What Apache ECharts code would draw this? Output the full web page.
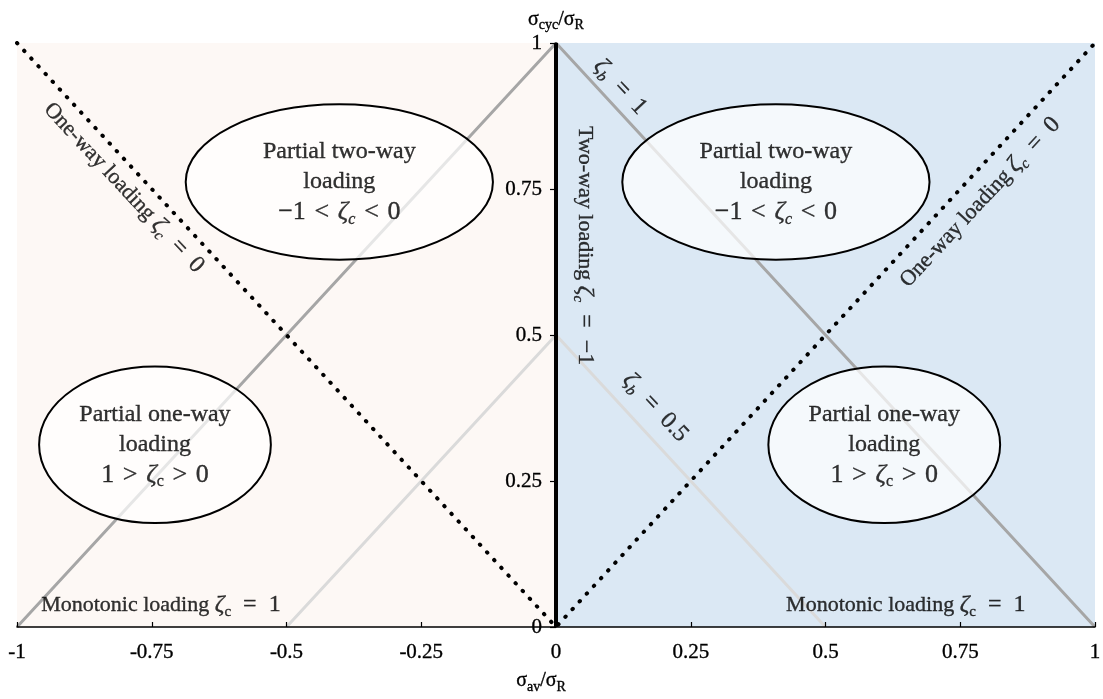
<!DOCTYPE html>
<html><head><meta charset="utf-8">
<script src="https://cdn.jsdelivr.net/npm/echarts@6/dist/echarts.min.js"></script>
<style>html,body{margin:0;padding:0;background:#fff}#c{width:1103px;height:699px}</style>
</head><body><div id="c"></div>
<script>
// ---- data ----
const xTicks = [-1, -0.75, -0.5, -0.25, 0, 0.25, 0.5, 0.75, 1];
const xTickLabels = ['-1', '-0.75', '-0.5', '-0.25', '0', '0.25', '0.5', '0.75', '1'];
const yTicks = [0, 0.25, 0.5, 0.75, 1];
const yTickLabels = ['0', '0.25', '0.5', '0.75', '1'];

const zetaB1 = [[-1, 0], [0, 1], [1, 0]];
const zetaB05 = [[-0.5, 0], [0, 0.5], [0.5, 0]];
const oneWayLine = [[-1, 1], [0, 0], [1, 1]];
const twoWayLine = [[0, 0], [0, 1]];

const regionLeft = [[-1, 0], [0, 1]];
const regionRight = [[0, 0], [1, 1]];

const ellipseCenters = [[-0.402, 0.762], [0.408, 0.762], [-0.744, 0.312], [0.609, 0.312]];
const ellipseRadii = [[0.285, 0.133], [0.285, 0.133], [0.215, 0.134], [0.215, 0.134]];
const S = '\u2004';
const ellipseTexts = [
  'Partial two-way\nloading\n{m|−1' + S + '<' + S + '}{i|ζ}{si|c}{m|' + S + '<' + S + '0}',
  'Partial two-way\nloading\n{m|−1' + S + '<' + S + '}{i|ζ}{si|c}{m|' + S + '<' + S + '0}',
  'Partial one-way\nloading\n{m|1' + S + '>' + S + '}{i|ζ}{s|c}{m|' + S + '>' + S + '0}',
  'Partial one-way\nloading\n{m|1' + S + '>' + S + '}{i|ζ}{s|c}{m|' + S + '>' + S + '0}'
];

const annotationPos = [[-0.802, 0.752], [0.787, 0.727], [0.119, 0.925], [0.054, 0.653], [0.184, 0.376], [-0.733, 0.038], [0.649, 0.038]];
const annotationRot = [-47, 47, -47, -90, -47, 0, 0];
const E = '\u2002';
const annotationTexts = [
  'One-way loading {i|ζ}{si|c}{m|' + E + '=' + E + '0}',
  'One-way loading {i|ζ}{si|c}{m|' + E + '=' + E + '0}',
  '{i|ζ}{si|b}{m|' + E + '=' + E + '1}',
  'Two-way loading {i|ζ}{si|c}{m|' + E + '=' + E + '−1}',
  '{i|ζ}{si|b}{m|' + E + '=' + E + '0.5}',
  'Monotonic loading {i|ζ}{s|c}{m|' + E + '=' + E + '1}',
  'Monotonic loading {i|ζ}{s|c}{m|' + E + '=' + E + '1}'
];

// ---- styles ----
const F = '"Liberation Serif", "Times New Roman", serif';
const TB = {textBorderColor: '#000', textBorderWidth: 0.35};
function rich(fs, lh) {
  const sub = Math.round(fs * 0.68);
  const pad = Math.round(fs * 0.62);
  const mf = Math.round(fs * 1.08);
  return {
    n: Object.assign({fontFamily: F, fontSize: fs, lineHeight: lh, color: '#000'}, TB),
    m: Object.assign({fontFamily: F, fontSize: mf, lineHeight: lh, color: '#000'}, TB),
    i: Object.assign({fontFamily: F, fontSize: mf, lineHeight: lh, fontStyle: 'italic', color: '#000'}, TB),
    s: Object.assign({fontFamily: F, fontSize: sub, lineHeight: lh, padding: [pad, 0, 0, 0], color: '#000'}, TB),
    si: Object.assign({fontFamily: F, fontSize: sub, lineHeight: lh, fontStyle: 'italic', padding: [pad, 0, 0, 0], color: '#000'}, TB)
  };
}
function tickLabel(ticks, labels) {
  return function (v) {
    for (let k = 0; k < ticks.length; k++) if (Math.abs(ticks[k] - v) < 1e-9) return labels[k];
    return '';
  };
}

const W = 1103, GL = 17, GR = 8;
const chart = echarts.init(document.getElementById('c'), null, {renderer: 'canvas'});
chart.setOption({
  animation: false,
  backgroundColor: '#fff',
  grid: {left: GL, right: GR, top: 43, bottom: 72, containLabel: false, outerBoundsMode: 'none'},
  xAxis: {
    type: 'value', min: -1, max: 1, interval: 0.25, z: 10,
    name: '{n|σ}{s|av}{n|/σ}{s|R}', nameLocation: 'middle', nameGap: 40,
    nameTextStyle: Object.assign({rich: rich(20, 22), fontFamily: F, fontSize: 20, color: '#000', padding: [0, 30, 0, 0]}, TB),
    axisLine: {onZero: false, lineStyle: {color: '#000', width: 1.5}},
    axisTick: {inside: true, length: 5, lineStyle: {color: '#000', width: 1.2}},
    axisLabel: Object.assign({formatter: tickLabel(xTicks, xTickLabels), fontFamily: F, fontSize: 21, color: '#000', margin: 15}, TB),
    splitLine: {show: false}
  },
  yAxis: {
    type: 'value', min: 0, max: 1, interval: 0.25, position: 'left', z: 10,
    offset: -(W - GL - GR) / 2,
    name: '{n|σ}{s|cyc}{n|/σ}{s|R}', nameLocation: 'end', nameGap: 10,
    nameTextStyle: Object.assign({rich: rich(20, 22), fontFamily: F, fontSize: 20, color: '#000'}, TB),
    axisLine: {onZero: false, lineStyle: {color: '#000', width: 1.5}},
    axisTick: {length: 6, lineStyle: {color: '#000', width: 1.2}},
    axisLabel: Object.assign({formatter: tickLabel(yTicks, yTickLabels), fontFamily: F, fontSize: 21, color: '#000', margin: 14}, TB),
    splitLine: {show: false}
  },
  series: [
    {
      type: 'line', z: -1, silent: true, data: [], symbol: 'none',
      markArea: {
        silent: true,
        data: [
          [{xAxis: regionLeft[0][0], yAxis: regionLeft[0][1], itemStyle: {color: '#fdf8f5'}}, {xAxis: regionLeft[1][0], yAxis: regionLeft[1][1]}],
          [{xAxis: regionRight[0][0], yAxis: regionRight[0][1], itemStyle: {color: '#dbe8f4'}}, {xAxis: regionRight[1][0], yAxis: regionRight[1][1]}]
        ]
      }
    },
    {type: 'line', z: 2, silent: true, data: zetaB1, symbol: 'none', lineStyle: {color: '#a6a6a6', width: 3}},
    {type: 'line', z: 2, silent: true, data: zetaB05, symbol: 'none', lineStyle: {color: '#dadada', width: 3}},
    {type: 'line', z: 3, silent: true, data: oneWayLine, symbol: 'none', lineStyle: {color: '#000', width: 4, type: [0.5, 10], cap: 'round'}},
    {type: 'line', z: 11, silent: true, data: twoWayLine, symbol: 'none', lineStyle: {color: '#000', width: 4}},
    {
      type: 'custom', z: 12, silent: true,
      data: ellipseCenters.map((c, i) => [c[0], c[1], ellipseRadii[i][0], ellipseRadii[i][1]]),
      renderItem: function (params, api) {
        const c = api.coord([api.value(0), api.value(1)]);
        const s = api.size([api.value(2), api.value(3)]);
        return {type: 'ellipse', shape: {cx: c[0], cy: c[1], rx: s[0], ry: s[1]},
          style: {fill: 'rgba(255,255,255,0.72)', stroke: '#000', lineWidth: 2}};
      }
    },
    {
      type: 'scatter', z: 13, silent: true, symbolSize: 0,
      data: ellipseCenters.map((c, i) => ({value: c, label: {formatter: ellipseTexts[i]}})),
      label: Object.assign({show: true, position: 'inside', align: 'center', verticalAlign: 'middle',
        fontFamily: F, fontSize: 24, lineHeight: 30, color: '#000', rich: rich(24, 30)}, TB)
    },
    {
      type: 'scatter', z: 13, silent: true, symbolSize: 0,
      data: annotationPos.map((p, i) => ({value: p, label: {formatter: annotationTexts[i], rotate: annotationRot[i]}})),
      label: Object.assign({show: true, position: 'inside', align: 'center', verticalAlign: 'middle',
        fontFamily: F, fontSize: 22, lineHeight: 26, color: '#000', rich: rich(22, 26)}, TB)
    }
  ]
});
</script></body></html>
